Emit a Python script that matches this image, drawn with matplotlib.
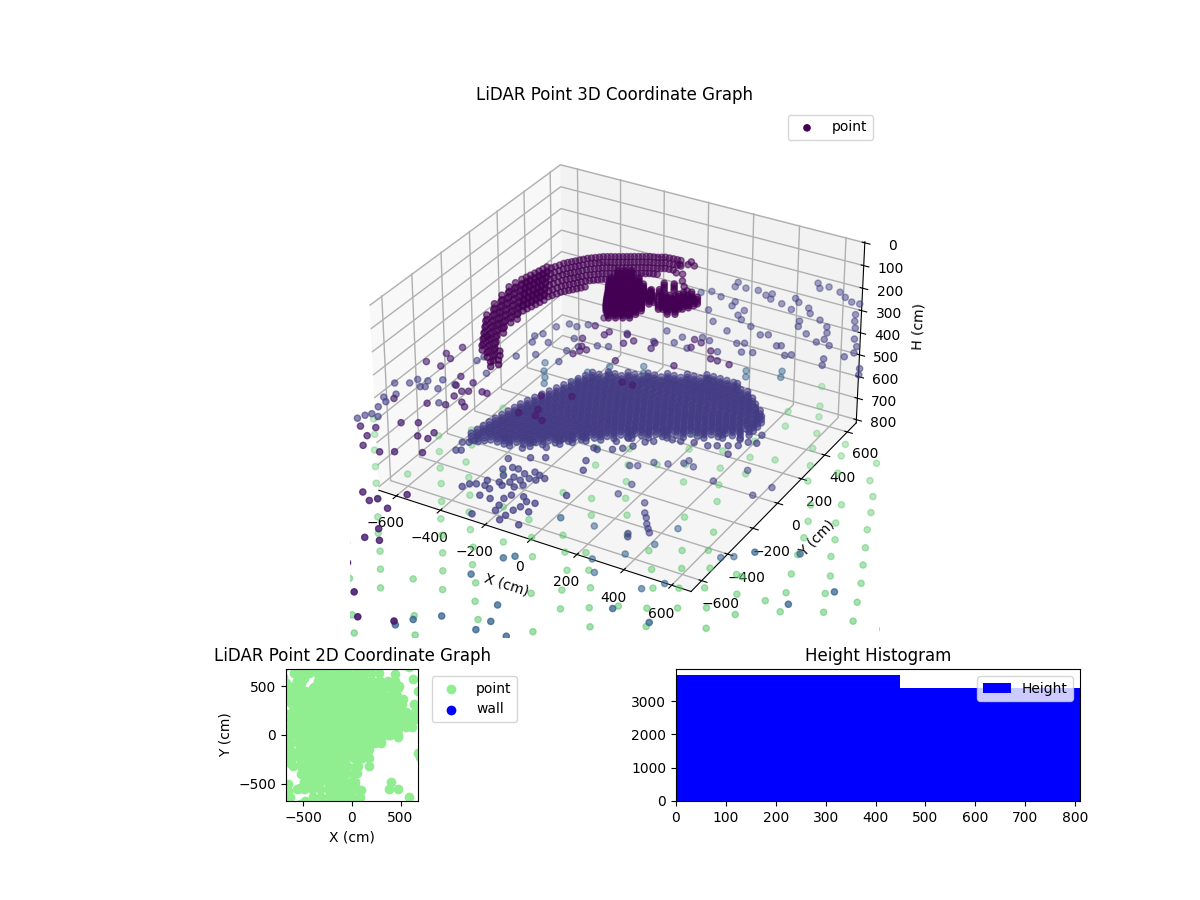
import matplotlib
matplotlib.use("Agg")
import matplotlib.pyplot as plt
import numpy as np

top_left_heights = [250, 270]
top_right_h = 260
blob_heights = [255, 265, 275, 285]
scatter_h = 450
floor_heights = [630, 645, 660]
stray_h = 650
blue_h = 900
ground_h = 1600
deep_h = 3000
lowered_stray_h = 1100
lowered_blue_h = 1300

# Upper arc of the scan, dense left end
top_left_points = [
    (-512,-151),(-490,-193),(-467,-235),(-445,-277),(-422,-319),(-400,-361),
    (-534,-61),(-511,-103),(-489,-145),(-466,-187),(-444,-229),(-421,-271),(-399,-313),(-376,-355),(-354,-397),
    (-546,12),(-523,-30),(-501,-72),(-478,-114),(-456,-156),(-433,-198),(-411,-240),(-388,-282),(-366,-324),(-343,-366),(-321,-408),(-306,-450),
    (-558,84),(-535,42),(-513,0),(-490,-42),(-468,-84),(-445,-126),(-423,-168),(-400,-210),(-320,-363),(-288,-423),
    (-554,125),(-531,83),(-509,41),(-486,-1),(-464,-43),(-441,-85),(-419,-127),
    (-547,161),(-524,119),(-502,77),(-479,35),(-457,-7),(-434,-49),(-412,-91),
    (-541,185),(-518,143),(-496,100),(-473,58),(-451,16),(-428,-25),
    (-536,208),(-513,166),(-491,124),(-468,82),(-446,40),(-423,-2),
    (-530,231),(-507,189),(-485,147),(-462,105),(-440,63),(-417,21),
    (-525,254),(-502,212),(-480,170),(-457,128),(-435,86),(-412,44),
    (-520,276),(-497,234),(-475,192),(-452,150),(-430,108),(-407,66),
    (-515,299),(-492,257),(-470,215),(-447,173),(-425,131),(-402,89),
]

# Upper arc, thinner right part
top_right_points = [
    (-506,316),(-483,274),(-461,232),(-438,190),(-416,148),(-393,106),
    (-498,333),(-475,291),(-453,249),(-430,207),(-408,165),(-385,123),
    (-490,353),(-467,311),(-445,269),(-422,227),(-400,185),(-377,143),
    (-483,373),(-460,331),(-438,289),(-415,247),(-393,205),(-370,163),
    (-473,387),(-450,345),(-428,303),(-405,261),(-383,219),(-360,177),
    (-463,401),(-440,359),(-418,317),(-395,275),(-373,233),(-350,191),
    (-453,414),(-430,372),(-408,330),(-385,288),(-363,246),(-340,204),
    (-443,428),(-420,386),(-398,344),(-375,302),(-353,260),(-330,218),
    (-433,442),(-410,400),(-388,358),(-365,316),(-343,274),(-320,232),
    (-423,457),(-400,415),(-378,373),(-355,331),(-333,289),(-310,247),
    (-411,468),(-388,426),(-366,384),(-343,342),(-321,300),
    (-399,479),(-376,437),(-354,395),(-331,353),(-309,311),
    (-387,490),(-364,448),(-342,406),(-319,364),(-297,322),
    (-376,501),(-353,459),(-331,417),(-308,375),(-286,333),
    (-362,509),(-339,467),(-317,425),(-294,383),(-272,341),
    (-349,517),(-326,475),(-304,433),(-281,391),(-259,349),
    (-335,524),(-312,482),(-290,440),(-267,398),(-245,356),
    (-322,532),(-299,490),(-277,448),(-254,406),(-232,364),
    (-308,540),(-285,498),(-263,456),(-240,414),(-218,372),
    (-295,548),(-272,506),(-250,464),(-227,422),(-205,380),
    (-282,556),(-259,514),(-237,472),(-214,430),(-192,388),
    (-269,564),(-246,522),(-224,480),(-201,438),(-179,396),
    (-255,572),(-232,530),(-210,488),(-187,446),
    (-242,580),(-219,538),(-197,496),(-174,454),
    (-228,587),(-205,545),(-183,503),(-160,461),
    (-215,595),(-192,553),(-170,511),(-147,469),
    (-200,600),(-177,558),(-155,516),(-132,474),
    (-185,605),(-162,563),(-140,521),(-117,479),
    (-172,613),(-149,571),(-127,529),
    (-159,621),(-136,579),(-114,537),
    (-142,623),(-119,581),(-97,539),
    (-125,625),(-102,583),(-80,541),
    (-108,626),(-85,584),
    (-92,627),(-69,585),
    (-51,611),(-79,595),(-51,638),(-24,614),(-31,530),(-58,527),(-4,480),(24,443),(51,419),
]

# Dense blob under the arc
blob_points = [
    (-261,417),(-238,431),(-214,445),
    (-255,357),(-232,371),(-208,385),(-185,398),(-161,412),
    (-246,331),(-223,345),(-199,359),(-176,372),(-152,386),
    (-237,305),(-214,319),(-190,333),(-167,346),(-143,360),(-120,374),
    (-224,281),(-201,295),(-177,309),(-154,322),(-130,336),(-107,350),
    (-211,257),(-188,271),(-164,285),(-141,298),(-117,312),(-94,326),(-70,340),
    (-200,232),(-177,246),(-153,260),(-130,273),(-106,287),(-83,301),(-59,315),
    (-188,207),(-165,221),(-141,235),(-118,248),(-94,262),(-71,276),(-47,290),
    (-176,183),(-153,197),(-129,211),(-106,224),(-82,238),(-59,252),
    (-163,158),(-140,172),(-116,186),(-93,199),(-69,213),(-46,227),
    (-145,137),(-122,151),(-98,165),(-75,178),(-51,192),
    (-127,115),(-104,129),(-80,143),(-57,156),
    (-70,349),(-43,365),(-38,311),(-11,327),(35,354),(75,378),
    (5,272),(31,288),(58,304),(85,319),(54,254),(80,269),
    (49,394),(76,410),(-53,421),(-16,435),
    (20,280),(45,296),(72,312),(20,300),(48,320),(100,340),(60,330),(90,355),
    (30,320),(65,345),(110,365),(115,385),(40,370),(-10,350),(15,345),
]

# Dark purple stray points
scatter_points = [
    (-649,-120),(-678,-191),(-642,-217),(-710,-283),(-643,-284),(-533,-312),(-512,-378),(-466,-330),
    (-469,-405),(-447,-392),(-400,-370),(-378,-370),(-475,-449),(-425,-473),(-398,-496),(-534,-545),
    (-468,-519),(-662,-578),(-540,-712),(-484,-680),(-602,-788),(-657,-808),(-597,-852),(-571,-916),
    (-493,-923),(-446,-895),(-434,-760),(-391,-757),(-394,-711),(-354,-849),(-191,-282),(-148,-375),
    (-133,-419),(-94,-436),(-199,-431),(24,-41),(69,-41),(-87,-229),(-611,0),(-289,288),(-221,243),
    (-216,273),(-291,360),(-281,176),(-251,120),(-251,53),(-240,86),(-221,105),(-81,88),(-143,289),
    (-122,222),(-97,258),(-17,285),(-9,241),(104,387),(122,326),(139,377),(202,339),(134,167),(231,285),
    (261,284),(314,281),
    (-379,-1450),(-313,-1465),(-218,-1420),(-207,-1350),(-163,-1410),(-292,-1560),(-180,-1580),
    (-186,-1660),(-271,-1790),(-147,-1820),(-96,-1740),(-59,-1715),(35,-1830),(154,-1790),(-140,-2070),
    (-106,-2090),(-46,-2060),(1,-2080),(79,-2030),(-8,-2210),(85,-2210),(-442,-1270),(-391,-1180),
    (-339,-1215),(-320,-1190),(-244,-1115),(-390,-1310),(-254,-1225),
]

# Stray points at floor height
stray_points = [
    (-138,1215),(-131,1175),(-86,1186),(-32,1194),(15,1173),(33,1196),(48,1153),(106,1140),(-69,1058),
    (-64,1021),(-141,1068),(-196,1089),(-231,1059),(-132,942),(-217,978),(-1,1011),(-5,963),(25,936),
    (85,905),(163,1116),(162,1186),(135,1210),(220,1162),(246,1124),(237,1045),(253,1002),(306,1094),
    (356,1057),(379,1012),(309,963),(393,959),(375,923),(433,923),(462,815),(526,872),(480,766),(335,780),
    (314,762),(250,815),(266,825),(192,718),(151,699),(101,753),(128,769),(18,824),(-69,865),(151,862),
    (179,879),(-5,717),(-42,725),(-54,617),(66,653),(156,1376),(183,1339),(211,1369),(271,1351),(310,1321),
    (351,1298),(387,1300),(412,1209),(434,1156),(461,1106),(498,1022),(533,971),(546,919),(621,817),(640,770),
    (-920,-204),(-869,-174),(-857,-135),(-816,-124),(-817,-177),(-800,-167),(-748,-155),(-769,-88),(-708,-94),
    (-896,-316),(-867,-273),(-869,-341),(-865,-444),(-894,-500),(-881,-467),(-832,-450),(-873,-388),(-685,-245),
    (-734,109),(-726,148),(-647,42),(-617,218),(-556,268),(-446,266),(-464,357),(-440,408),(-377,453),(-335,470),
    (-639,396),(-619,428),(-602,505),(-568,552),(-530,548),(-498,585),(-563,377),(-621,348),(-489,458),(-324,602),
    (-198,598),(-121,631),(-194,701),(-114,687),
    (-446,-447),(-424,-434),(-436,-507),(-419,-497),(-412,-414),(-379,-395),(-323,-335),(-225,-369),(-212,-309),
    (-149,-319),(-123,-230),(-67,-184),(9,-231),(26,-235),(76,-205),(106,-179),(60,-148),(132,-146),(88,-105),
    (157,-97),(183,-76),(239,-30),(272,-24),(321,-7),(377,-1),(408,17),(444,38),(477,58),(499,98),(530,108),
    (462,101),(520,170),(473,-16),
    (-232,-459),(-162,-412),(-113,-383),(-210,-533),(-184,-505),(-160,-503),(-184,-570),(-144,-560),(-122,-520),
    (-94,-491),(-67,-501),(-39,-511),(-173,-617),(-139,-597),(-112,-567),(-89,-540),(-62,-537),(-218,-629),
    (-207,-663),(-240,-670),(-262,-683),(-276,-712),(-180,-674),(-152,-631),(-107,-618),(-85,-591),(-187,-730),
    (-142,-730),(-98,-704),(-86,-671),(-41,-658),(-14,-681),(19,-675),(-15,-722),(-26,-755),(-89,-752),(-82,-788),
    (-32,-798),(-35,-834),(29,-736),(-144,-851),(43,-828),
    (56,-389),(92,-571),(30,-325),
]

# Same colour as the strays above but lower down, the 2D window is empty at their floor position
lowered_stray_points = [
    (-85,225),(-97,137),(27,132),(64,68),(86,41),(110,3),(131,-24),(150,-47),(80,-93),(91,-114),
    (373,396),(413,485),(268,551),(186,411),(27,497),(-35,433),(18,470),(65,465),(-90,414),(-163,344),(-135,360),
]

# Steel blue stray points
blue_points = [
    (-47,-387),(-91,-729),(-59,-698),(-137,-880),
    (54,-1000),(-84,-1160),(-161,-1230),(-198,-1290),(69,-1170),(88,-1100),(428,-810),(704,-226),(856,-152),
    (1078,-312),(968,-467),(586,-820),(628,-960),(185,-1150),(219,-1220),
    (-715,595),(-683,534),(-652,491),(-629,447),(-523,536),(-521,616),(-465,702),(-438,652),(-343,774),(-316,724),
    (-289,674),(43,955),(65,910),(174,1026),(192,979),(-61,822),
]

lowered_blue_points = [
    (88,299),(63,152),(-5,33),(-101,-63),(-45,-141),(-215,147),(172,-146),(233,-70),(337,201),(379,233),
]

# Light green returns far below the floor
ground_points = [
    (-1526,511),(-1462,429),(-1403,345),(-1338,260),(-1275,176),(-1213,99),(-1150,10),(-1092,-69),(-1168,-179),
    (-1025,-151),(-964,-235),(-1039,-338),(-903,-321),(-912,-497),(-848,-572),(-1195,288),(-1221,557),(-1161,473),
    (-1099,387),(-1041,308),(-978,217),(-922,128),(-864,49),(-804,-35),(-746,-120),(-821,-216),(-688,-208),(-703,-381),
    (-641,-465),(-543,-199),(-479,-276),(-597,-112),(-664,-32),(-717,53),(-783,134),(-845,219),(-899,307),(-963,397),
    (-1027,473),(-1122,659),(-1066,577),(-1085,850),(-854,490),(-741,315),(-629,139),(-483,125),(-545,218),(-610,302),
    (-576,512),(-443,292),(-385,212),(-324,127),(-284,22),(-194,89),(-250,170),(-311,251),(-405,451),(-456,539),
    (-548,727),(-598,825),(-336,610),(-385,701),(-431,796),(-477,889),(-532,978),(-280,524),(-221,423),(-100,386),
    (-38,298),(18,209),(106,260),(62,362),(14,453),(-72,630),(-179,817),(-225,918),(-259,1012),(-293,1105),(-465,1146),
    (-419,1045),(-327,858),(250,218),(317,343),(289,440),(158,419),(104,506),(72,610),(-2,780),(-44,874),(-88,970),
    (-131,1073),(-225,1259),(-43,1196),(-101,1290),(-12,1093),(20,991),(86,1131),(264,1079),(230,1172),(190,1277),
    (162,1374),(122,1478),(-9,1444),(25,1350),(42,1672),(94,1546),(447,1016),(474,905),(514,814),(542,718),(588,616),
    (613,518),(652,422),(506,341),(479,446),(450,550),(423,661),(401,762),(373,858),(339,952),(349,1186),(315,1293),
    (298,1369),(463,1324),(485,1210),(571,1033),(601,932),(639,832),(673,737),(710,639),(741,536),(771,435),(887,453),
    (537,1126),(98,14),(-87,-95),(-262,-226),(-378,-53),(301,120),(363,241),(429,366),(192,311),(265,440),(-49,56),
    (52,101),(154,161),(-235,-69),(-142,-8),
]

# Floor band, one list of x per row of y
floor_y = [-400,-365,-330,-295,-260,-225,-190,-155,-120,-85,-50,-15,20,55,90,125,160,195,230,265,300,335,370,405,440]
floor_x = [
    [-435,-405],
    [-430,-400,-370,-340,-310,-285],
    [-425,-395,-365,-335,-305,-275,-245,-215],
    [-420,-390,-360,-330,-300,-270,-240,-210,-180],
    [-415,-385,-355,-325,-295,-265,-235,-205,-175,-145,-125],
    [-407,-377,-347,-317,-287,-257,-227,-197,-167,-137,-107,-90],
    [-400,-370,-340,-310,-280,-250,-220,-190,-160,-130,-100,-70,-50],
    [-393,-363,-333,-303,-273,-243,-213,-183,-153,-123,-93,-63,-33,-5],
    [-387,-357,-327,-297,-267,-237,-207,-177,-147,-117,-87,-57,-27,3,33],
    [-377,-347,-317,-287,-257,-227,-197,-167,-137,-107,-77,-47,-17,13,43,73,92],
    [-365,-335,-305,-275,-245,-215,-185,-155,-125,-95,-65,-35,-5,25,55,85,115,145],
    [-353,-323,-293,-263,-233,-203,-173,-143,-113,-83,-53,-23,7,37,67,97,127,157,187,207],
    [-341,-311,-281,-251,-221,-191,-161,-131,-101,-71,-41,-11,19,49,79,109,139,169,199,229,259],
    [-329,-299,-269,-239,-209,-179,-149,-119,-89,-59,-29,1,31,61,91,121,151,181,211,241,271,301,330],
    [-317,-287,-257,-227,-197,-167,-137,-107,-77,-47,-17,13,43,73,103,133,163,193,223,253,283,313,343,373,392],
    [-304,-274,-244,-214,-184,-154,-124,-94,-64,-34,-4,26,56,86,116,146,176,206,236,266,296,326,356,386,416,450],
    [-292,-262,-232,-202,-172,-142,-112,-82,-52,-22,8,38,68,98,128,158,188,218,248,278,308,338,368,398,428,470],
    [-280,-250,-220,-190,-160,-130,-100,-70,-40,-10,20,50,80,110,140,170,200,230,260,290,320,350,380,410,440,470],
    [-268,-238,-208,-178,-148,-118,-88,-58,-28,2,32,62,92,122,152,182,212,242,272,302,332,362,392,422,452,470],
    [-216,-186,-156,-126,-96,-66,-36,-6,24,54,84,114,144,174,204,234,264,294,324,354,384,414,444,468],
    [-146,-116,-86,-56,-26,4,34,64,94,124,154,184,214,244,274,304,334,364,394,424,444],
    [-75,-45,-15,15,45,75,105,135,165,195,225,255,285,315,345,375,405],
    [-6,24,54,84,114,144,174,204,234,264,294,324,354,374],
    [64,94,124,154,184,214,244,274,304,334],
    [133,163,193,223,253,270],
]

# Deep returns, off the 3D view but inside the 2D window
deep_y = [640,560,480,400,320,240,160,80,0,-80,-160,-240,-320,-400,-480,-560,-640,-190]
deep_x = [
    [-600,-520,-440,-360,-280,-200,-120,-40,40,120,200,280],
    [-350,-270,-190,-110,-30,50,130,210,290,370,440],
    [-570,-400,-320,-240,-160,-80,0,80,160,240,320,400,470],
    [-590,-530,-420,-340,-260,-180,-100,-20,60,140,220,300,380,460],
    [-600,-560,-440,-360,-280,-200,-120,-40,40,120,200,280,360,440,520,640],
    [-620,-480,-400,-320,-240,-160,-80,0,80,160,240,320,400,480,560,650],
    [-640,-560,-480,-400,-320,-240,-160,-80,0,80,160,240,320,400,600,660],
    [-640,-560,-480,-400,-320,-240,-160,-80,0,80,160,240,320,480,560,620],
    [-650,-570,-490,-410,-330,-250,-170,-90,-10,70,150,230,300,390,470],
    [-640,-560,-480,-400,-320,-240,-160,-80,0,80,160,240,300],
    [-630,-550,-470,-390,-310,-230,-150,-70,10,90,160],
    [-620,-540,-460,-380,-300,-220,-140,-60,20,100,175],
    [-610,-530,-450,-370,-290,-210,-130,-50,60,170],
    [-530,-450,-370,-290,-210,-130,20],
    [-490,-410,-330,-250,-170,-90,-10,30,400],
    [-570,-490,-410,-330,-250,-170,-90,-10,50,380,470],
    [-640,-400,-320,-240,-160,-80,0,80,590],
    [680],
]

wall_x = []
wall_y = []

hist_edges = [0, 450, 900]
hist_counts = [3780, 3390]


def rows_to_points(row_y, row_x):
    return [(x, y) for y, xs in zip(row_y, row_x) for x in xs]


# My reading of the far returns came out foreshortened, stretch them along the view
ground = np.array(ground_points, dtype=float)
ground_x = 1.1125 * ground[:, 0] - 0.108 * ground[:, 1]
ground_y = -0.108 * ground[:, 0] + 1.2375 * ground[:, 1]
ground_points = list(zip(ground_x, ground_y))

floor_points = rows_to_points(floor_y, floor_x)

# points, height, colour value
groups = [(top_left_points, h, h) for h in top_left_heights]
groups += [(top_right_points, top_right_h, top_right_h)]
groups += [(blob_points, h, h) for h in blob_heights]
groups += [(floor_points, h, h) for h in floor_heights]
groups += [
    (scatter_points, scatter_h, scatter_h),
    (stray_points, stray_h, stray_h),
    (lowered_stray_points, lowered_stray_h, stray_h),
    (blue_points, blue_h, blue_h),
    (lowered_blue_points, lowered_blue_h, blue_h),
    (ground_points, ground_h, 1700),
    (rows_to_points(deep_y, deep_x), deep_h, deep_h),
]
xs = np.concatenate([np.array(p)[:, 0] for p, h, c in groups])
ys = np.concatenate([np.array(p)[:, 1] for p, h, c in groups])
hs = np.concatenate([np.full(len(p), h) for p, h, c in groups])
cs = np.concatenate([np.full(len(p), c) for p, h, c in groups])

plt.rcParams["grid.linewidth"] = 1.0

fig = plt.figure(figsize=(12, 9), dpi=100)

# 3D view
ax3d = fig.add_axes([350 / 1200, 262 / 900, 530 / 1200, 530 / 900], projection="3d")
ax3d.scatter(xs, ys, hs, c=cs, cmap="viridis", vmin=300, vmax=2200, label="point")
ax3d.set_xlim(-680, 680)
ax3d.set_ylim(-680, 680)
ax3d.set_zlim(815, -5)
ax3d.set_box_aspect((1360, 1360, 810))
for axis in (ax3d.xaxis, ax3d.yaxis, ax3d.zaxis):
    axis.pane.set_edgecolor("none")
ax3d.set_xlabel("X (cm)")
ax3d.set_ylabel("Y (cm)")
ax3d.set_zlabel("H (cm)")
ax3d.set_title("LiDAR Point 3D Coordinate Graph")
ax3d.legend(loc="upper right")

# 2D view
ax2d = fig.add_axes([286 / 1200, 99 / 900, 132 / 1200, 132 / 900])
ax2d.scatter(xs, ys, c="lightgreen", label="point")
ax2d.scatter(wall_x, wall_y, c="blue", label="wall")
ax2d.set_xlim(-680, 680)
ax2d.set_ylim(-680, 680)
ax2d.set_xlabel("X (cm)")
ax2d.set_ylabel("Y (cm)")
ax2d.set_title("LiDAR Point 2D Coordinate Graph")
ax2d.legend(loc="upper left", bbox_to_anchor=(1.05, 1))

# Height histogram
axh = fig.add_axes([676 / 1200, 99 / 900, 404 / 1200, 132 / 900])
axh.hist(hist_edges[:-1], bins=hist_edges, weights=hist_counts, color="blue", label="Height")
axh.set_xlim(0, 810)
axh.set_title("Height Histogram")
axh.legend()

fig.savefig("out.png", dpi=100)
